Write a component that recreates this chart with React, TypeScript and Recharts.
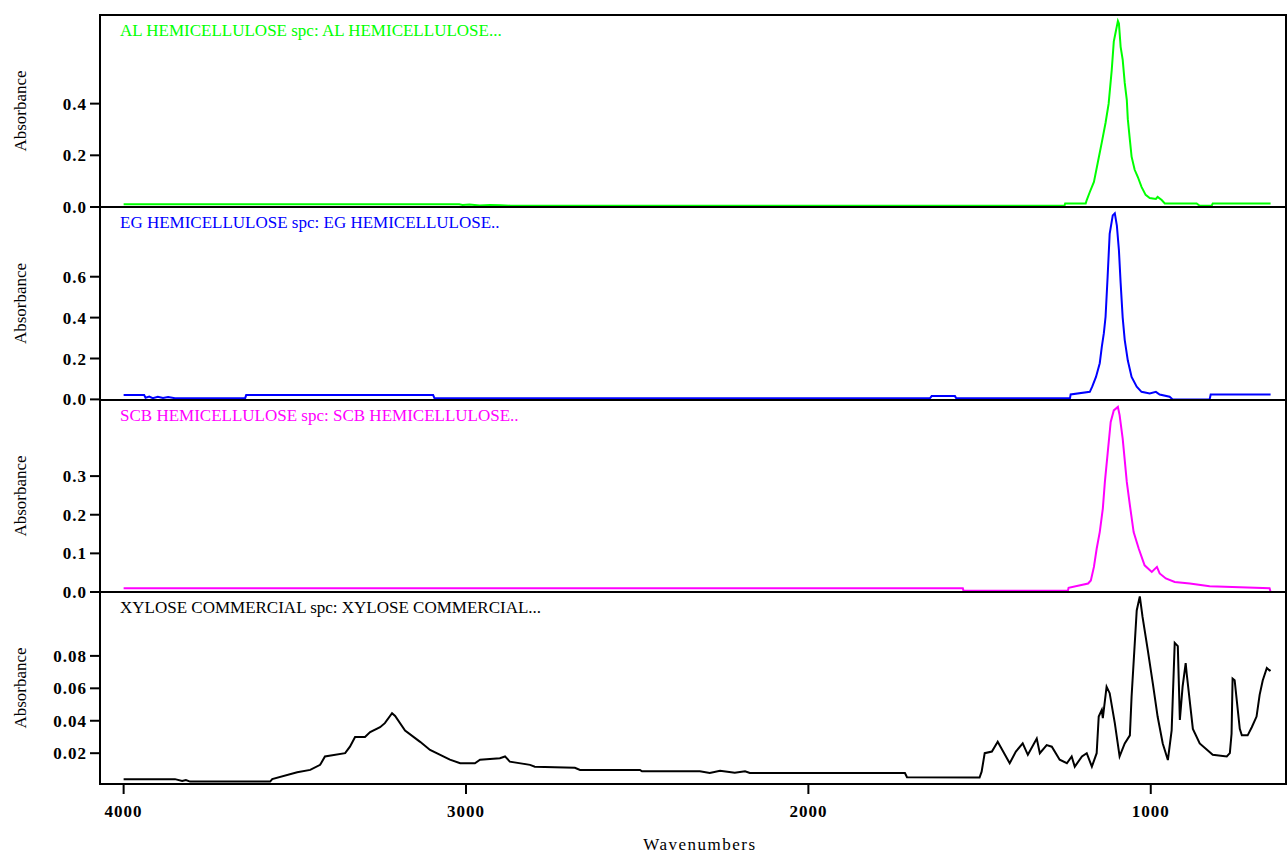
import React from "react";
import { LineChart, Line, XAxis, YAxis, ReferenceArea } from "recharts";

// shared wavenumber axis (reversed, high to low)
const wnDomain = [605, 4069];
const wnTicks = [4000, 3000, 2000, 1000];

// AL hemicellulose
const alWn = [4000, 3020, 3010, 2990, 2960, 2930, 2900, 2870, 1252, 1250, 1190, 1187, 1178, 1166, 1155, 1143, 1132, 1123, 1114, 1108, 1102, 1099, 1096, 1093, 1091, 1088, 1082, 1076, 1070, 1067, 1061, 1056, 1047, 1038, 1027, 1015, 1003, 985, 980, 968, 959, 866, 857, 822, 819, 650];
const alAbs = [0.011, 0.011, 0.008, 0.01, 0.006, 0.008, 0.007, 0.005, 0.005, 0.014, 0.014, 0.027, 0.058, 0.097, 0.17, 0.25, 0.326, 0.4, 0.53, 0.64, 0.68, 0.7, 0.72, 0.71, 0.675, 0.62, 0.57, 0.48, 0.415, 0.34, 0.26, 0.195, 0.144, 0.117, 0.078, 0.047, 0.035, 0.031, 0.039, 0.027, 0.014, 0.014, 0.005, 0.005, 0.014, 0.014];

// EG hemicellulose
const egWn = [4000, 3940, 3936, 3925, 3915, 3900, 3885, 3870, 3850, 3645, 3642, 3096, 3092, 1645, 1640, 1572, 1568, 1236, 1234, 1178, 1171, 1160, 1149, 1143, 1137, 1132, 1126, 1120, 1111, 1105, 1099, 1093, 1088, 1082, 1076, 1067, 1056, 1041, 1027, 1003, 985, 974, 945, 936, 828, 825, 650];
const egAbs = [0.021, 0.021, 0.008, 0.014, 0.006, 0.013, 0.007, 0.012, 0.006, 0.006, 0.021, 0.021, 0.005, 0.005, 0.016, 0.016, 0.005, 0.005, 0.024, 0.037, 0.062, 0.11, 0.177, 0.257, 0.324, 0.404, 0.6, 0.81, 0.9, 0.91, 0.85, 0.73, 0.57, 0.4, 0.29, 0.19, 0.11, 0.062, 0.037, 0.029, 0.037, 0.024, 0.013, 0.0, 0.0, 0.024, 0.024];

// SCB hemicellulose
const scbWn = [4000, 1549, 1547, 1242, 1240, 1183, 1175, 1166, 1158, 1149, 1140, 1134, 1126, 1117, 1108, 1096, 1091, 1082, 1070, 1061, 1050, 1035, 1018, 997, 982, 974, 956, 930, 886, 828, 653, 650];
const scbAbs = [0.01, 0.01, 0.003, 0.003, 0.011, 0.022, 0.03, 0.065, 0.112, 0.155, 0.216, 0.285, 0.358, 0.44, 0.47, 0.479, 0.458, 0.397, 0.285, 0.225, 0.155, 0.112, 0.069, 0.052, 0.065, 0.048, 0.035, 0.026, 0.022, 0.015, 0.01, 0.0];

// Xylose commercial
const xylWn = [4000, 3850, 3829, 3818, 3806, 3572, 3566, 3493, 3455, 3426, 3412, 3353, 3339, 3324, 3295, 3280, 3251, 3237, 3216, 3207, 3178, 3134, 3105, 3047, 3017, 2974, 2959, 2901, 2886, 2872, 2813, 2799, 2682, 2667, 2492, 2486, 2317, 2288, 2258, 2215, 2185, 2171, 1718, 1712, 1500, 1494, 1485, 1464, 1447, 1412, 1394, 1374, 1359, 1333, 1324, 1304, 1289, 1266, 1245, 1231, 1222, 1201, 1187, 1172, 1158, 1152, 1143, 1140, 1129, 1120, 1105, 1091, 1076, 1061, 1056, 1041, 1032, 1024, 1009, 994, 980, 965, 950, 939, 936, 930, 921, 915, 907, 898, 895, 877, 857, 819, 778, 769, 764, 761, 755, 740, 734, 717, 705, 691, 682, 673, 661, 653, 650];
const xylAbs = [0.004, 0.004, 0.0028, 0.0035, 0.0025, 0.0025, 0.004, 0.0083, 0.0097, 0.0128, 0.018, 0.02, 0.024, 0.03, 0.03, 0.033, 0.036, 0.0385, 0.0447, 0.043, 0.034, 0.027, 0.022, 0.016, 0.0138, 0.0138, 0.016, 0.0169, 0.018, 0.0148, 0.0128, 0.0117, 0.011, 0.0097, 0.0097, 0.0088, 0.0088, 0.0078, 0.0092, 0.008, 0.0088, 0.0078, 0.0078, 0.0052, 0.005, 0.0086, 0.02, 0.021, 0.027, 0.0138, 0.021, 0.026, 0.019, 0.029, 0.02, 0.025, 0.024, 0.016, 0.0138, 0.018, 0.0117, 0.018, 0.02, 0.0117, 0.02, 0.0426, 0.0467, 0.0416, 0.061, 0.057, 0.0385, 0.018, 0.026, 0.031, 0.055, 0.108, 0.1167, 0.104, 0.084, 0.063, 0.0426, 0.026, 0.0158, 0.034, 0.052, 0.088, 0.086, 0.0405, 0.061, 0.0756, 0.069, 0.035, 0.026, 0.019, 0.018, 0.02, 0.032, 0.066, 0.065, 0.035, 0.031, 0.031, 0.036, 0.0426, 0.056, 0.0648, 0.0725, 0.071, 0.0714];

const toPoints = (wn: number[], abs: number[]) => wn.map((w, i) => ({ w, a: abs[i] }));

const panels = [
  { title: "AL HEMICELLULOSE spc: AL HEMICELLULOSE...", color: "#00ff00", data: toPoints(alWn, alAbs), domain: [0, 0.743], ticks: [0, 0.2, 0.4], digits: 1 },
  { title: "EG HEMICELLULOSE spc: EG HEMICELLULOSE..", color: "#0000ff", data: toPoints(egWn, egAbs), domain: [-0.003, 0.941], ticks: [0, 0.2, 0.4, 0.6], digits: 1 },
  { title: "SCB HEMICELLULOSE spc: SCB HEMICELLULOSE..", color: "#ff00ff", data: toPoints(scbWn, scbAbs), domain: [0, 0.497], ticks: [0, 0.1, 0.2, 0.3], digits: 1 },
  { title: "XYLOSE COMMERCIAL spc: XYLOSE COMMERCIAL...", color: "#000000", data: toPoints(xylWn, xylAbs), domain: [0.001, 0.1194], ticks: [0.02, 0.04, 0.06, 0.08], digits: 2 },
];

// vertical layout of the stacked plots
const panelTops = [15, 207, 400, 592];
const panelHeights = [192, 193, 192, 192];
const xAxisHeight = 80;
const pad = 12; // room above/below each plot so edge tick labels are not clipped

const FONT = "'Liberation Serif', 'Times New Roman', serif";

const tickStyle = { fill: "#000", fontSize: 17, fontWeight: "bold", fontFamily: FONT, letterSpacing: 1 };

function PanelTitle(props: any) {
  const { viewBox, text, color } = props;
  return (
    <text x={viewBox.x + 20} y={viewBox.y + 21} fill={color} fontSize={17} fontFamily={FONT}>
      {text}
    </text>
  );
}

function AbsLabel(props: any) {
  const { viewBox } = props;
  const cy = viewBox.y + viewBox.height / 2;
  return (
    <text x={26} y={cy} transform={`rotate(-90, 26, ${cy})`} textAnchor="middle" fontSize={17} fontFamily={FONT} fill="#000">
      Absorbance
    </text>
  );
}

function WaveLabel(props: any) {
  const { viewBox } = props;
  return (
    <text x={viewBox.x + viewBox.width / 2 + 7} y={viewBox.y + 66} textAnchor="middle" fontSize={17} fontFamily={FONT} fill="#000" letterSpacing={1.5}>
      Wavenumbers
    </text>
  );
}

export default function App() {
  return (
    <div style={{ position: "absolute", left: 0, top: 0, width: 1287, height: 854, background: "#fff", overflow: "hidden" }}>
      {panels.map((p, i) => {
        const last = i === panels.length - 1;
        return (
          <div key={i} style={{ position: "absolute", left: 0, top: panelTops[i] - pad }}>
            <LineChart
              width={1287}
              height={panelHeights[i] + pad + (last ? xAxisHeight : pad)}
              data={p.data}
              margin={{ top: pad, right: 1, bottom: last ? 0 : pad, left: 0 }}
            >
              <XAxis
                dataKey="w"
                type="number"
                domain={wnDomain}
                reversed
                allowDataOverflow
                ticks={wnTicks}
                interval={0}
                hide={!last}
                height={last ? xAxisHeight : 0}
                axisLine={false}
                tickLine={{ stroke: "#000", strokeWidth: 2 }}
                tickSize={10}
                tickMargin={11}
                tick={tickStyle}
                label={last ? <WaveLabel /> : undefined}
              />
              <YAxis
                type="number"
                domain={p.domain}
                allowDataOverflow
                ticks={p.ticks}
                interval={0}
                width={100}
                axisLine={false}
                tickLine={{ stroke: "#000", strokeWidth: 2 }}
                tickSize={10}
                tickMargin={3}
                tick={tickStyle}
                tickFormatter={(v: number) => v.toFixed(p.digits)}
                label={<AbsLabel />}
              />
              <ReferenceArea
                x1={wnDomain[0]}
                x2={wnDomain[1]}
                y1={p.domain[0]}
                y2={p.domain[1]}
                fill="none"
                fillOpacity={0}
                stroke="#000"
                strokeWidth={2}
                ifOverflow="visible"
                label={<PanelTitle text={p.title} color={p.color} />}
              />
              <Line
                type="linear"
                dataKey="a"
                stroke={p.color}
                strokeWidth={2}
                dot={false}
                isAnimationActive={false}
              />
            </LineChart>
          </div>
        );
      })}
    </div>
  );
}
